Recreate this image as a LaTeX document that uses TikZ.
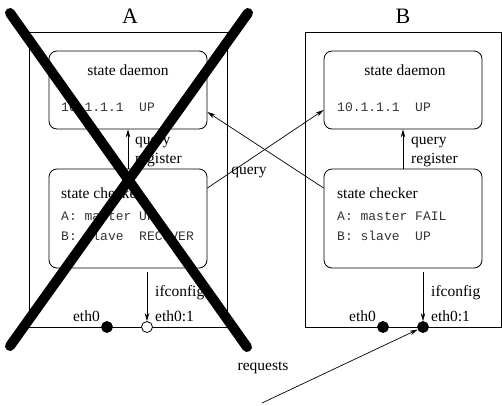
\documentclass[tikz,border=0pt]{standalone}
\usepackage{fontspec}
\setmainfont{Liberation Serif}
\setmonofont{Liberation Mono}
\usetikzlibrary{arrows.meta}
\begin{document}
\begin{tikzpicture}[x=1pt,y=-1pt,
  every node/.style={inner sep=0pt, font=\fontsize{15.5}{18}\selectfont},
  host/.style={draw, line width=0.8pt},
  proc/.style={draw, line width=0.8pt, rounded corners=8pt, minimum width=158pt},
  mono/.style={font=\ttfamily\fontsize{13}{15}\selectfont, text=black!80, anchor=west},
  lbl/.style={anchor=west},
  arr/.style={line width=0.7pt, -{Stealth[length=8pt,width=4.5pt]}},
  port/.style={circle, draw, line width=0.8pt, minimum size=11pt},
  cross/.style={line width=10pt, line cap=round}]
\useasboundingbox (0,0) rectangle (502,405);

% hosts
\node[host, minimum width=198pt, minimum height=295pt] (hA) at (128,179.5) {};
\node[host, minimum width=196pt, minimum height=295pt] (hB) at (403.5,179.5) {};
\node[font=\fontsize{22}{24}\selectfont] (tA) at (130,16) {A};
\node[font=\fontsize{22}{24}\selectfont] (tB) at (403,16) {B};

% daemons and checkers
\node[proc, minimum height=78pt] (dA) at (128,90) {};
\node[proc, minimum height=78pt] (dB) at (403,90) {};
\node[proc, minimum height=99pt] (cA) at (128,218.5) {};
\node[proc, minimum height=99pt] (cB) at (403,218.5) {};

\node (dAt) at (128,70) {state daemon};
\node (dBt) at (405,70) {state daemon};
\node[mono] (dAs) at (61,107) {10.1.1.1\ \ UP};
\node[mono] (dBs) at (337,107) {10.1.1.1\ \ UP};

\node[lbl] (cAt) at (61,193) {state checker};
\node[lbl] (cBt) at (337,193) {state checker};
\node[mono] (cAa) at (61,216) {A:\ master\ UP};
\node[mono] (cAb) at (61,236) {B:\ slave\ \ RECOVER};
\node[mono] (cBa) at (337,216) {A:\ master\ FAIL};
\node[mono] (cBb) at (337,236) {B:\ slave\ \ UP};

% query / register inside each host
\draw[arr] (cA.north) -- (dA.south);
\draw[arr] (cB.north) -- (dB.south);
\node[lbl] (qA) at (135,142) {query};
\node[lbl] (rA) at (135,160) {register};
\node[lbl] (qB) at (411,142) {query};
\node[lbl] (rB) at (411,160) {register};

% network ports
\draw[line width=0.8pt] (hA.south west) -- (hA.south east);
\node[port, fill=black] (eA) at (107,327) {};
\node[port, fill=white] (e1A) at (147,327) {};
\node[port, fill=black] (eB) at (383,327) {};
\node[port, fill=black] (e1B) at (423,327) {};
\node[anchor=east] (leA) at (100,316) {eth0};
\node[lbl] (le1A) at (155,316) {eth0:1};
\node[anchor=east] (leB) at (376,316) {eth0};
\node[lbl] (le1B) at (431,316) {eth0:1};

\draw[arr, shorten <=4pt] (cA.south -| e1A) -- (e1A);
\draw[arr, shorten <=4pt] (cB.south -| e1B) -- (e1B);
\node[lbl] (ifA) at (155,293) {ifconfig};
\node[lbl] (ifB) at (431,293) {ifconfig};

% cross-host queries
\draw[arr] ([yshift=30.5pt]cB.west) -- ([yshift=-22pt]dA.east);
\draw[arr] ([yshift=30.5pt]cA.east) -- ([yshift=-20pt]dB.west);
\node (qx) at (249,172) {query};

% client requests
\coordinate (cl) at (262,403);
\draw[arr] (cl) -- (e1B);
\node (req) at (263,368) {requests};

% host A is down
\draw[cross] (10,13) -- (247,347);
\draw[cross] (248,13) -- (10,346);
\end{tikzpicture}
\end{document}
